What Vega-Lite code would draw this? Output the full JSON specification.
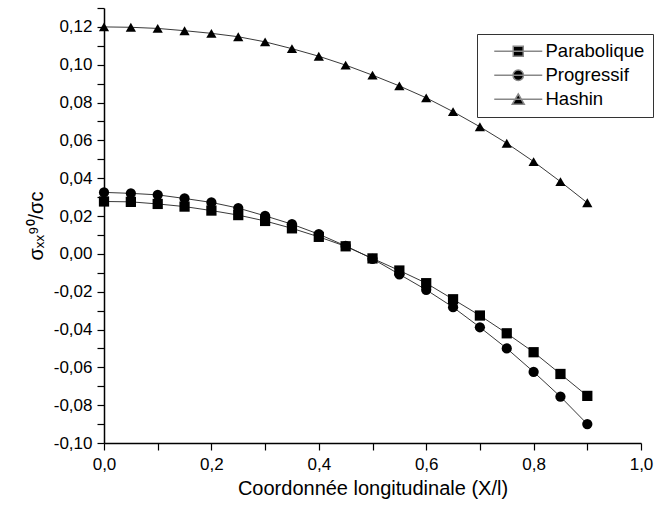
{
  "$schema": "https://vega.github.io/schema/vega-lite/v6.json",
  "width": 537,
  "height": 435,
  "autosize": {"type": "none"},
  "padding": {"left": 104, "top": 8, "right": 14, "bottom": 67},
  "background": "white",
  "config": {
    "view": {"stroke": null},
    "font": "Liberation Sans",
    "axis": {
      "labelFont": "Liberation Sans",
      "titleFont": "Liberation Sans",
      "labelFontSize": 17,
      "titleFontSize": 20,
      "titleFontWeight": "normal",
      "labelColor": "black",
      "titleColor": "black",
      "domainColor": "black",
      "domainWidth": 1.5,
      "tickColor": "black",
      "tickWidth": 1.2,
      "tickSize": 7,
      "grid": false,
      "labelOverlap": false,
      "labelFlush": false,
      "labelBound": false
    }
  },
  "data": {
    "values": [
      {"x": 0.0, "s": "Parabolique", "y": 0.0277},
      {"x": 0.05, "s": "Parabolique", "y": 0.0275},
      {"x": 0.1, "s": "Parabolique", "y": 0.0264},
      {"x": 0.15, "s": "Parabolique", "y": 0.0250},
      {"x": 0.2, "s": "Parabolique", "y": 0.0229},
      {"x": 0.25, "s": "Parabolique", "y": 0.0205},
      {"x": 0.3, "s": "Parabolique", "y": 0.0174},
      {"x": 0.35, "s": "Parabolique", "y": 0.0135},
      {"x": 0.4, "s": "Parabolique", "y": 0.0090},
      {"x": 0.45, "s": "Parabolique", "y": 0.0040},
      {"x": 0.5, "s": "Parabolique", "y": -0.0024},
      {"x": 0.55, "s": "Parabolique", "y": -0.0088},
      {"x": 0.6, "s": "Parabolique", "y": -0.0155},
      {"x": 0.65, "s": "Parabolique", "y": -0.0240},
      {"x": 0.7, "s": "Parabolique", "y": -0.0326},
      {"x": 0.75, "s": "Parabolique", "y": -0.0420},
      {"x": 0.8, "s": "Parabolique", "y": -0.0520},
      {"x": 0.85, "s": "Parabolique", "y": -0.0635},
      {"x": 0.9, "s": "Parabolique", "y": -0.0751},
      {"x": 0.0, "s": "Progressif", "y": 0.0325},
      {"x": 0.05, "s": "Progressif", "y": 0.0320},
      {"x": 0.1, "s": "Progressif", "y": 0.0312},
      {"x": 0.15, "s": "Progressif", "y": 0.0293},
      {"x": 0.2, "s": "Progressif", "y": 0.0272},
      {"x": 0.25, "s": "Progressif", "y": 0.0242},
      {"x": 0.3, "s": "Progressif", "y": 0.0201},
      {"x": 0.35, "s": "Progressif", "y": 0.0157},
      {"x": 0.4, "s": "Progressif", "y": 0.0104},
      {"x": 0.45, "s": "Progressif", "y": 0.0042},
      {"x": 0.5, "s": "Progressif", "y": -0.0026},
      {"x": 0.55, "s": "Progressif", "y": -0.0108},
      {"x": 0.6, "s": "Progressif", "y": -0.0190},
      {"x": 0.65, "s": "Progressif", "y": -0.0282},
      {"x": 0.7, "s": "Progressif", "y": -0.0388},
      {"x": 0.75, "s": "Progressif", "y": -0.0500},
      {"x": 0.8, "s": "Progressif", "y": -0.0624},
      {"x": 0.85, "s": "Progressif", "y": -0.0755},
      {"x": 0.9, "s": "Progressif", "y": -0.0900},
      {"x": 0.0, "s": "Hashin", "y": 0.1200},
      {"x": 0.05, "s": "Hashin", "y": 0.1198},
      {"x": 0.1, "s": "Hashin", "y": 0.1192},
      {"x": 0.15, "s": "Hashin", "y": 0.1180},
      {"x": 0.2, "s": "Hashin", "y": 0.1166},
      {"x": 0.25, "s": "Hashin", "y": 0.1148},
      {"x": 0.3, "s": "Hashin", "y": 0.1121},
      {"x": 0.35, "s": "Hashin", "y": 0.1085},
      {"x": 0.4, "s": "Hashin", "y": 0.1045},
      {"x": 0.45, "s": "Hashin", "y": 0.0998},
      {"x": 0.5, "s": "Hashin", "y": 0.0945},
      {"x": 0.55, "s": "Hashin", "y": 0.0888},
      {"x": 0.6, "s": "Hashin", "y": 0.0825},
      {"x": 0.65, "s": "Hashin", "y": 0.0752},
      {"x": 0.7, "s": "Hashin", "y": 0.0672},
      {"x": 0.75, "s": "Hashin", "y": 0.0585},
      {"x": 0.8, "s": "Hashin", "y": 0.0488},
      {"x": 0.85, "s": "Hashin", "y": 0.0382},
      {"x": 0.9, "s": "Hashin", "y": 0.0270}
    ]
  },
  "encoding": {
    "x": {
      "field": "x",
      "type": "quantitative",
      "scale": {"domain": [0, 1.0], "nice": false, "zero": false},
      "axis": {
        "title": "Coordonnée longitudinale (X/l)",
        "values": [0, 0.1, 0.2, 0.3, 0.4, 0.5, 0.6, 0.7, 0.8, 0.9, 1.0],
        "labelExpr": "round(datum.value*10) % 2 === 0 ? replace(format(datum.value, '.1f'), '.', ',') : ''",
        "labelPadding": 6,
        "titlePadding": 6,
        "encode": {"ticks": {"update": {"y2": {"signal": "round(datum.value*10) % 2 === 0 ? 7 : 4"}}}}
      }
    },
    "y": {
      "field": "y",
      "type": "quantitative",
      "scale": {"domain": [-0.1, 0.13], "nice": false, "zero": false},
      "axis": {
        "title": "σₓₓ⁹⁰/σc",
        "values": [-0.1, -0.09, -0.08, -0.07, -0.06, -0.05, -0.04, -0.03, -0.02, -0.01, 0, 0.01, 0.02, 0.03, 0.04, 0.05, 0.06, 0.07, 0.08, 0.09, 0.1, 0.11, 0.12, 0.13],
        "labelExpr": "round(datum.value*100) % 2 === 0 ? (datum.value < -0.000001 ? '-' : '') + replace(format(abs(datum.value), '.2f'), '.', ',') : ''",
        "labelPadding": 5,
        "titlePadding": 7,
        "encode": {"ticks": {"update": {"x2": {"signal": "round(datum.value*100) % 2 === 0 ? -8 : -4"}}}}
      }
    }
  },
  "layer": [
    {
      "mark": {"type": "line", "color": "#222222", "strokeWidth": 0.9},
      "encoding": {"detail": {"field": "s"}}
    },
    {
      "mark": {"type": "point", "filled": true, "color": "black", "opacity": 1, "size": 105},
      "encoding": {
        "shape": {
          "field": "s",
          "type": "nominal",
          "scale": {"domain": ["Parabolique", "Progressif", "Hashin"], "range": ["square", "circle", "triangle-up"]},
          "legend": null
        }
      }
    },
    {
      "transform": [{"filter": "datum.x > 5"}],
      "mark": {"type": "point", "filled": false, "fill": "black", "fillOpacity": 1, "stroke": "#888888", "strokeWidth": 1, "opacity": 1, "size": 105},
      "encoding": {
        "shape": {
          "field": "s",
          "type": "nominal",
          "scale": {
            "domain": ["Parabolique", "Progressif", "Hashin"],
            "range": [
              "M-4.8,0H4.8M-1,-1H1V1H-1Z",
              "M-4.8,0H4.8M-1.05,0A1.05,1.05 0 1,1 1.05,0A1.05,1.05 0 1,1 -1.05,0Z",
              "M-4.8,0H4.8M0,-1.05L1.2,1H-1.2Z"
            ]
          },
          "legend": {
            "title": null,
            "orient": "none",
            "legendX": 373,
            "legendY": 26,
            "padding": 8,
            "strokeColor": "#333333",
            "fillColor": "white",
            "labelFont": "Liberation Sans",
            "labelFontSize": 18.5,
            "labelColor": "black",
            "labelOffset": 18,
            "symbolOffset": 24,
            "symbolSize": 100,
            "rowPadding": 5
          }
        }
      }
    }
  ],
  "resolve": {"scale": {"shape": "independent"}, "legend": {"shape": "independent"}}
}
